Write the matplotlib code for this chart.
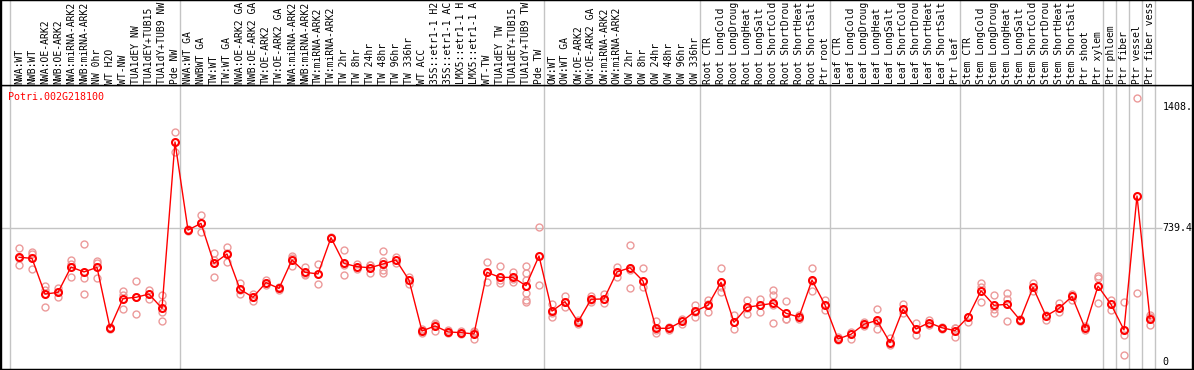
import matplotlib
matplotlib.use('Agg')
import matplotlib.pyplot as plt
from matplotlib.patches import Rectangle

W, H = 1194, 370

gene = "Potri.002G218100"

labels = [
    "NWA:WT", "NWB:WT", "NWA:OE-ARK2", "NWB:OE-ARK2", "NWA:miRNA-ARK2", "NWB:miRNA-ARK2",
    "NW 0hr", "WT H2O", "WT-NW", "TUA1dEY NW", "TUA1dEY+TUB15 NW", "TUA1dY+TUB9 NW", "Pde NW",
    "NWA:WT GA", "NWBWT GA", "TW:WT", "TW:WT GA", "NWA:OE-ARK2 GA", "NWB:OE-ARK2 GA",
    "TW:OE-ARK2", "TW:OE-ARK2 GA", "NWA:miRNA-ARK2", "NWB:miRNA-ARK2", "TW:miRNA-ARK2",
    "TW:miRNA-ARK2 GA", "TW 2hr", "TW 8hr", "TW 24hr", "TW 48hr", "TW 96hr", "TW 336hr",
    "WT ACC", "35S::etr1-1 H2O", "35S::etr1-1 ACC", "LMX5::etr1-1 H2O", "LMX5::etr1-1 ACC",
    "WT-TW", "TUA1dEY TW", "TUA1dEY+TUB15 TW", "TUA1dY+TUB9 TW", "Pde TW",
    "OW:WT", "OW:WT GA", "OW:OE-ARK2", "OW:OE-ARK2 GA", "OW:miRNA-ARK2", "OW:miRNA-ARK2 GA",
    "OW 2hr", "OW 8hr", "OW 24hr", "OW 48hr", "OW 96hr", "OW 336hr",
    "Root CTR", "Root LongCold", "Root LongDrought", "Root LongHeat", "Root LongSalt",
    "Root ShortCold", "Root ShortDrought", "Root ShortHeat", "Root ShortSalt", "Ptr root",
    "Leaf CTR", "Leaf LongCold", "Leaf LongDrought", "Leaf LongHeat", "Leaf LongSalt",
    "Leaf ShortCold", "Leaf ShortDrought", "Leaf ShortHeat", "Leaf ShortSalt", "Ptr leaf",
    "Stem CTR", "Stem LongCold", "Stem LongDrought", "Stem LongHeat", "Stem LongSalt",
    "Stem ShortCold", "Stem ShortDrought", "Stem ShortHeat", "Stem ShortSalt", "Ptr shoot",
    "Ptr xylem", "Ptr phloem", "Ptr fiber", "Ptr vessel", "Ptr fiber vessel",
]

means = [
    578, 572, 375, 384, 524, 497, 522, 188, 350, 357,
    375, 296, 1214, 728, 765, 544, 596, 401, 357, 438,
    406, 563, 495, 486, 686, 544, 526, 520, 541, 563,
    452, 171, 199, 166, 162, 155, 495, 467, 467, 421,
    585, 281, 333, 221, 346, 348, 497, 520, 447, 186,
    186, 224, 280, 313, 440, 219, 302, 313, 324, 269,
    248, 452, 315, 127, 153, 208, 230, 107, 291, 182,
    217, 189, 173, 248, 393, 313, 318, 232, 412, 254,
    296, 362, 188, 419, 318, 177, 916, 239,
]

replicates = [
    [627, 533, 575], [607, 598, 515], [419, 305, 400], [406, 359, 388], [563, 471, 540],
    [649, 462, 373], [557, 545, 462], [188, 192, 184], [392, 367, 291], [445, 360, 263],
    [397, 378, 350], [370, 324, 278, 224], [1269, 1159], [732, 724], [811, 716, 768],
    [600, 467, 565], [636, 550, 602], [434, 373, 396], [375, 338, 358], [452, 425, 437],
    [412, 400], [585, 531, 573], [522, 480, 483], [541, 430], [690, 682],
    [618, 480, 534], [541, 511], [537, 489, 534], [612, 508, 489, 555], [578, 548],
    [471, 430, 455], [180, 162], [217, 173, 207], [175, 158], [170, 154],
    [173, 129, 163], [550, 440], [530, 450, 434], [498, 443, 460], [531, 489, 455, 379, 342, 330],
    [747, 425], [320, 250, 272], [364, 305, 330], [230, 212], [364, 330, 344],
    [375, 324, 345], [526, 471, 494], [644, 406, 510], [517, 412], [226, 158, 175],
    [178, 194], [236, 212], [313, 250, 277], [342, 278, 320], [517, 388, 415],
    [259, 180, 218], [342, 265, 300], [348, 278], [397, 370, 213, 316], [335, 236, 240],
    [262, 236], [517, 392, 447], [342, 287], [140, 120], [167, 125],
    [220, 200], [291, 180, 220], [131, 95], [320, 269], [213, 149],
    [230, 205], [195, 183], [190, 140, 188], [248, 222], [434, 412, 333],
    [370, 290, 272], [379, 350, 226], [238, 225], [434, 390], [258, 232],
    [327, 278], [375, 342], [200, 178], [475, 462, 324], [342, 287],
    [333, 149, 39], [1455, 379], [259, 204, 250],
]

# last sample index of each group (vertical separators)
group_ends = [12, 40, 52, 62, 72, 83, 84, 85, 86, 87]

ytick_vals = [0, 739.4, 1408.8]
ytick_text = ["0", "739.4", "1408."]

mono = 'DejaVu Sans Mono'
fs = 7.0
grid_c = '#c4c4c4'
rep_c = '#ec9a9a'
max_chars = 14  # label strip only shows this many characters

fig = plt.figure(figsize=(W / 100, H / 100), dpi=100)


def px_axes(x0, y0, x1, y1):
    # pixel box (top-left origin) -> figure axes
    return fig.add_axes([x0 / W, 1 - y1 / H, (x1 - x0) / W, (y1 - y0) / H])


xlim = ((1 - 19) / 13, (1192 - 19) / 13)

ax = px_axes(1, 85, 1192, 369)
lab = px_axes(1, 0, 1192, 85)

ax.set_xlim(*xlim)
ax.set_ylim(-38.6, 1528.5)
lab.set_xlim(*xlim)
lab.set_ylim(0, 85)

for a in (ax, lab):
    a.set_xticks([])
    a.set_yticks([])
    for s in a.spines.values():
        s.set_linewidth(1)
        s.set_color('black')

# vertical group separators
seps = [-0.7] + [e + 0.4 for e in group_ends]
for x in seps:
    ax.axvline(x, color=grid_c, lw=1, zorder=0)
    lab.axvline(x, color=grid_c, lw=1, zorder=0)

# gridline at mid value
ax.hlines(ytick_vals[1], xlim[0], 87.9, color=grid_c, lw=1, zorder=0)

x = list(range(len(means)))

for i, reps in enumerate(replicates):
    ax.plot([i] * len(reps), reps, linestyle='none', marker='o', ms=5.0,
            mfc='none', mec=rep_c, mew=1.0, zorder=2)

ax.plot(x, means, color='red', lw=1, marker='o', ms=5.0, mfc='none',
        mec='red', mew=1.5, zorder=3)

for i, t in enumerate(labels):
    lab.text(i, 1.5, t[:max_chars], rotation=90, ha='center', va='bottom',
             fontsize=fs, family=mono, color='black')

for v, t in zip(ytick_vals, ytick_text):
    ax.text(87.95, v, t, ha='left', va='center', fontsize=7.2, family=mono,
            color='black')

ax.text(7 / 1191, 1 - 12 / 284, gene, transform=ax.transAxes, ha='left',
        va='center', fontsize=7.2, family=mono, color='red')

# outer border
fig.patches.append(Rectangle((0, 0), 1, 1, transform=fig.transFigure,
                             fill=False, edgecolor='black', lw=1.5))

fig.savefig('out.png', dpi=100)
